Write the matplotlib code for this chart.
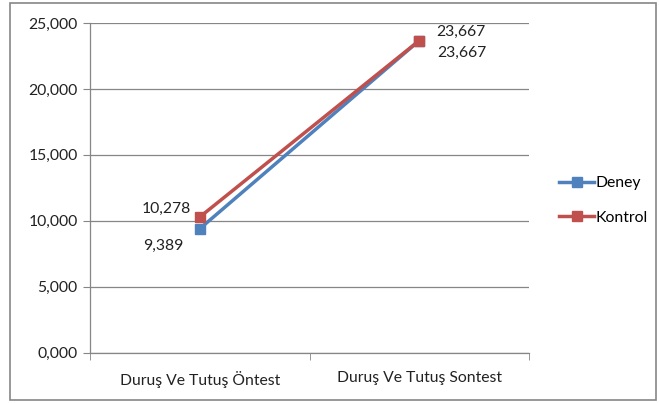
import matplotlib.pyplot as plt
from matplotlib.patches import Rectangle

plt.rcParams['font.family'] = ['Lato', 'DejaVu Sans']

categories = ['Duruş Ve Tutuş Öntest', 'Duruş Ve Tutuş Sontest']
deney = [9.389, 23.667]
kontrol = [10.278, 23.667]
yticks = [0, 5, 10, 15, 20, 25]
ytick_labels = ['0,000', '5,000', '10,000', '15,000', '20,000', '25,000']

blue = '#4F81BD'
red = '#C0504D'
fs = 11.3

fig = plt.figure(figsize=(6.59, 4.03), dpi=100)
ax = fig.add_axes([90 / 659, 1 - 352.5 / 403, 439 / 659, 329.5 / 403])

x = range(len(categories))
ax.plot(x, deney, color=blue, lw=2.5, marker='s', ms=7, label='Deney')
ax.plot(x, kontrol, color=red, lw=2.5, marker='s', ms=7, label='Kontrol')

fmt = lambda v: f'{v:.3f}'.replace('.', ',')
ax.annotate(fmt(deney[0]), (0, deney[0]), xytext=(-12, -12), textcoords='offset points',
            fontsize=fs, color='#222222', ha='right', va='center')
ax.annotate(fmt(kontrol[0]), (0, kontrol[0]), xytext=(-6, 6), textcoords='offset points',
            fontsize=fs, color='#222222', ha='right', va='center')
ax.annotate(fmt(kontrol[1]), (1, kontrol[1]), xytext=(12, 6), textcoords='offset points',
            fontsize=fs, color='#222222', ha='left', va='center')
ax.annotate(fmt(deney[1]), (1, deney[1]), xytext=(13, -9), textcoords='offset points',
            fontsize=fs, color='#222222', ha='left', va='center')

ax.set_xlim(-0.5, 1.5)
ax.set_ylim(0, 25)
ax.set_yticks(yticks)
ax.set_yticklabels(ytick_labels, fontsize=fs, color='#222222')
ax.set_xticks(list(x))
ax.set_xticklabels(categories, fontsize=fs, color='#222222')
ax.tick_params(axis='x', length=0, pad=13)
ax.tick_params(axis='y', length=5, color='#868686', pad=4)
ax.set_xticks([-0.5, 0.5, 1.5], minor=True)
ax.tick_params(axis='x', which='minor', length=5, color='#868686', direction='out')
ax.grid(axis='y', color='#868686', lw=0.9)
ax.set_axisbelow(True)
for s in ['top', 'right']:
    ax.spines[s].set_visible(False)
for s in ['left', 'bottom']:
    ax.spines[s].set_color('#868686')
    ax.spines[s].set_linewidth(0.9)

leg = fig.legend(loc='upper left', bbox_to_anchor=(553 / 659, 1 - 170 / 403), frameon=False,
                 fontsize=fs, handlelength=2.2, handletextpad=0.1, labelspacing=1.3,
                 borderaxespad=0)

fig.patches.append(Rectangle((10 / 659, 3 / 403), 646 / 659, 397 / 403, transform=fig.transFigure,
                             fill=False, edgecolor='#868686', lw=1.2))

fig.savefig('out.png', dpi=100)
